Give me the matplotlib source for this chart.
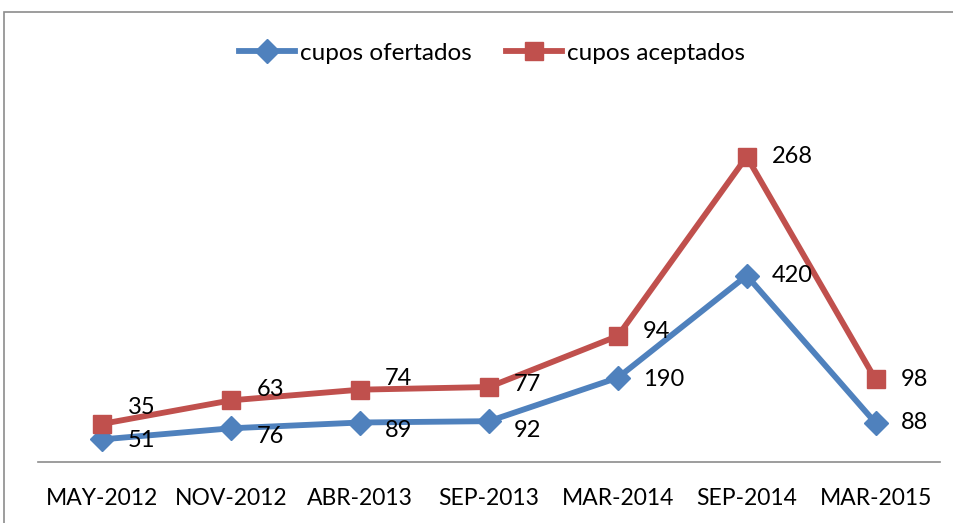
import matplotlib.pyplot as plt
from matplotlib.patches import Rectangle

fechas = ["MAY-2012", "NOV-2012", "ABR-2013", "SEP-2013", "MAR-2014", "SEP-2014", "MAR-2015"]
ofertados = [51, 76, 89, 92, 190, 420, 88]
aceptados = [35, 63, 74, 77, 94, 268, 98]

azul = "#4F81BD"
rojo = "#C0504D"
fuente = ["Lato", "DejaVu Sans"]

# stacked line chart (Excel style): aceptados is drawn on top of ofertados
apilado = [o + a for o, a in zip(ofertados, aceptados)]
x = list(range(len(fechas)))

fig = plt.figure(figsize=(9.54, 5.23), dpi=100)
ax = fig.add_axes([38 / 954, 61 / 523, 902 / 954, 355 / 523])

ax.plot(x, ofertados, color=azul, lw=4.2, marker="D", ms=12, label="cupos ofertados")
ax.plot(x, apilado, color=rojo, lw=4.2, marker="s", ms=13.5, label="cupos aceptados")

# label offsets (points) tweaked by hand like in the original
dy_azul = [-1, -6, -6, -7, -1, 0, 0]
dy_rojo = [12, 8, 8, 2, 3, 0, 0]
for i in x:
    ax.annotate(str(ofertados[i]), (i, ofertados[i]), xytext=(18, dy_azul[i]),
                textcoords="offset points", ha="left", va="center",
                fontsize=17, family=fuente)
    ax.annotate(str(aceptados[i]), (i, apilado[i]), xytext=(18, dy_rojo[i]),
                textcoords="offset points", ha="left", va="center",
                fontsize=17, family=fuente)

ax.set_xlim(-0.5, len(fechas) - 0.5)
ax.set_ylim(0, 800)
ax.set_xticks(x)
ax.set_xticklabels(fechas, fontsize=16.5, family=fuente)
ax.tick_params(axis="x", length=0, pad=19)
ax.set_yticks([])
for lado in ["top", "left", "right"]:
    ax.spines[lado].set_visible(False)
ax.spines["bottom"].set_color("#8c8c8c")
ax.spines["bottom"].set_linewidth(1.2)

fig.legend(loc="center", bbox_to_anchor=(492 / 954, 1 - 53 / 523), ncol=2, frameon=False,
           prop={"family": fuente, "size": 17.5}, handlelength=2.3, handletextpad=0.2,
           columnspacing=1.4)

# chart border
fig.patches.append(Rectangle((4 / 954, -0.05), 1.2, 1.05 - 12 / 523, transform=fig.transFigure,
                             fill=False, edgecolor="#8c8c8c", lw=1.2))

fig.savefig("out.png", dpi=100)
